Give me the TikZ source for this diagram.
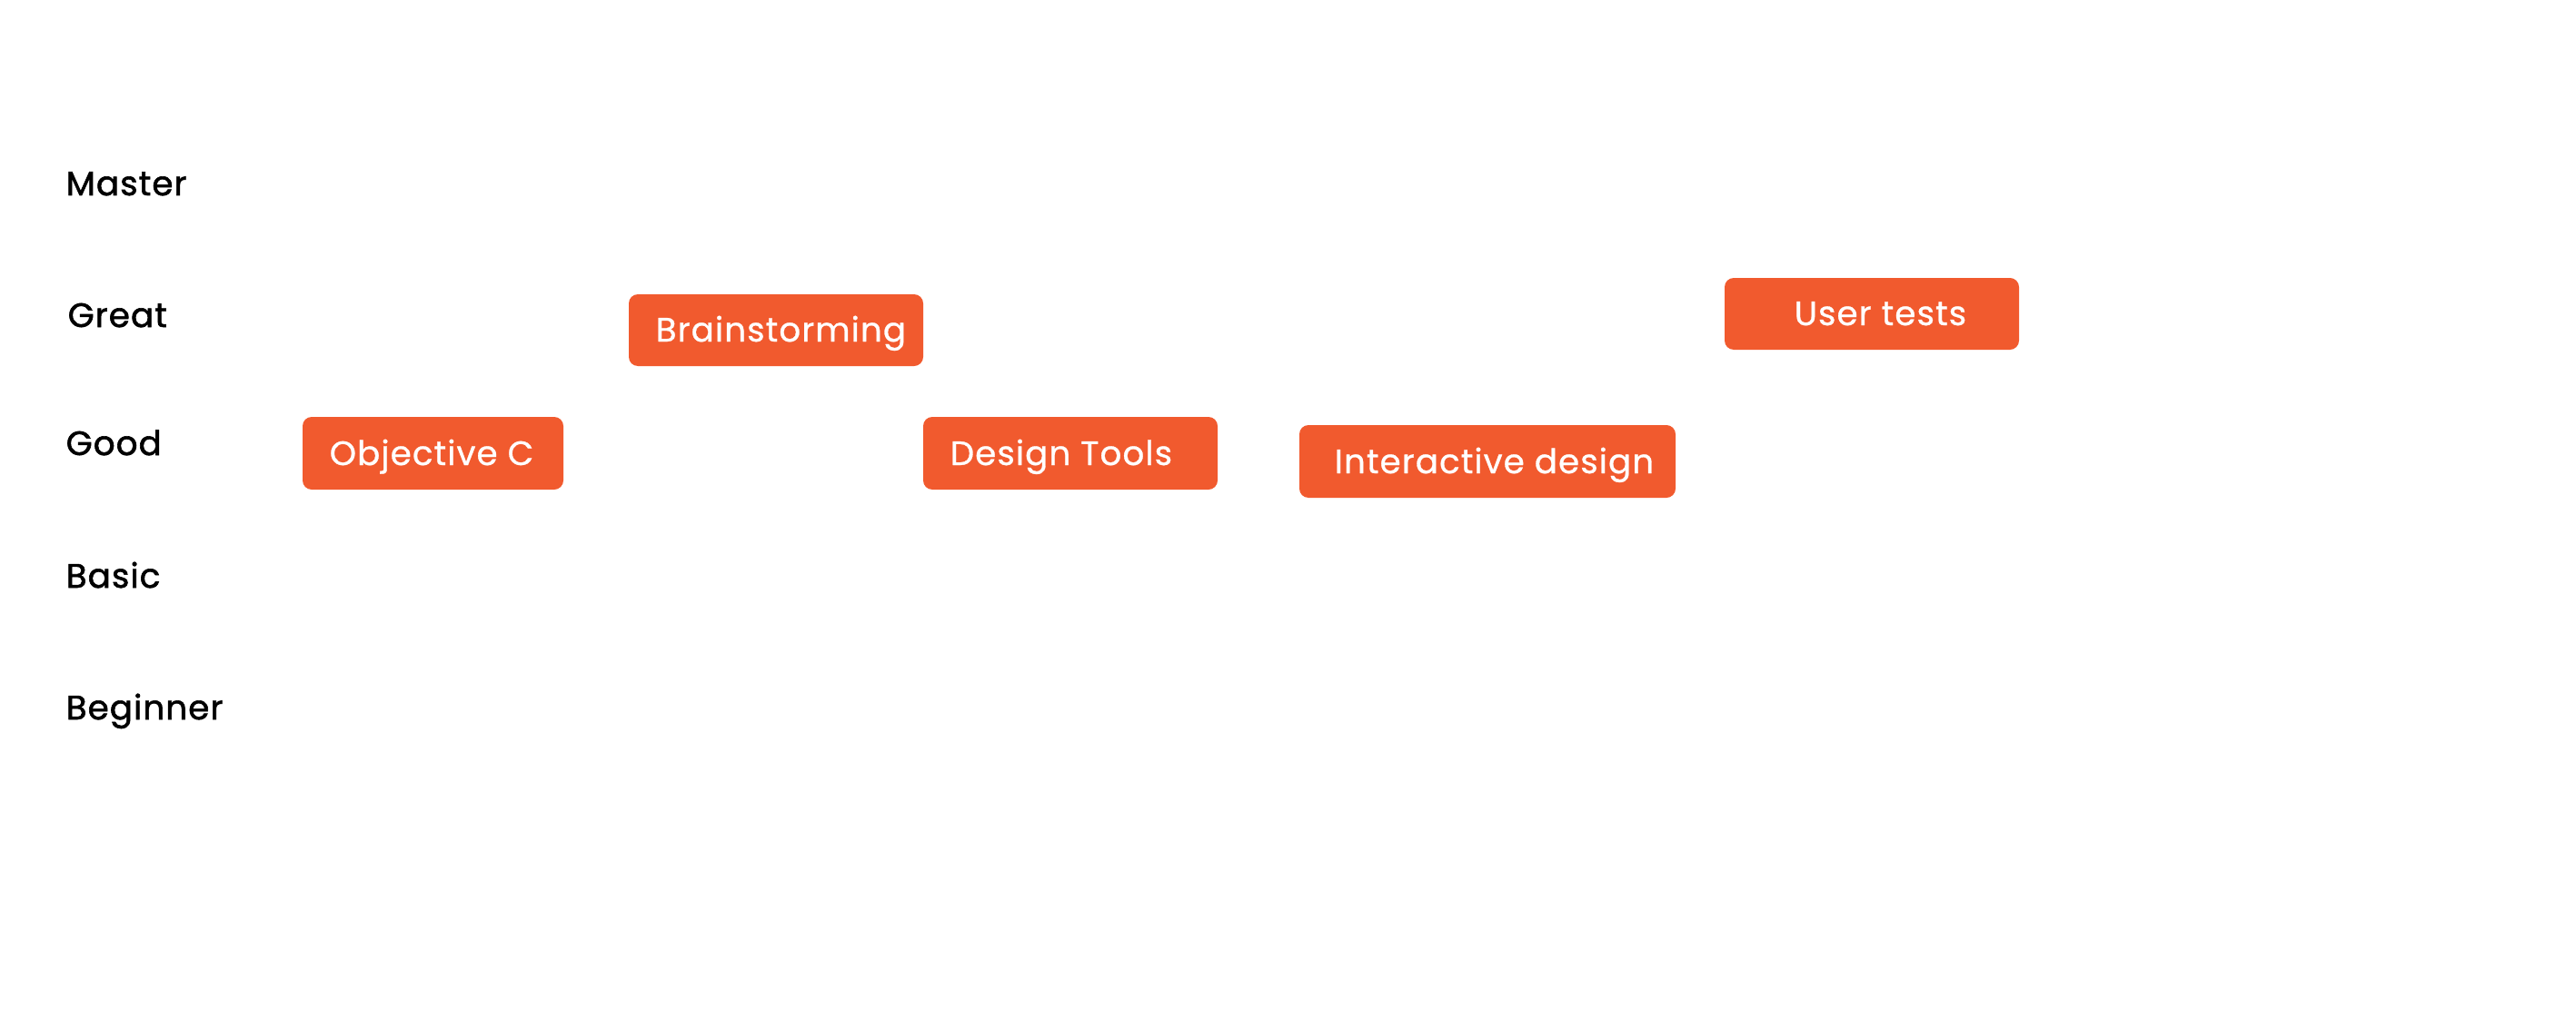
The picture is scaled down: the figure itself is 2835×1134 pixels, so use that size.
\documentclass[tikz,border=0pt]{standalone}
\usepackage{fontspec}
\setmainfont{Poppins}[LetterSpace=4]
\newfontfamily\lvlfont{Poppins}[LetterSpace=3,FakeBold=1.6]
\newfontfamily\boxfont{Poppins}[LetterSpace=3,FakeBold=0.8]
\definecolor{skill}{HTML}{F15A2E}
\begin{document}
\begin{tikzpicture}[x=0.25pt,y=-0.25pt,
  lvl/.style={anchor=base west,inner sep=0pt,font=\lvlfont\fontsize{9.3}{11}\selectfont,text=black},
  skillbox/.style={fill=skill,rounded corners=2.5pt,draw=none},
  skilltxt/.style={anchor=base west,inner sep=0pt,font=\boxfont\fontsize{9.3}{11}\selectfont,text=white}]
\useasboundingbox (0,0) rectangle (2835,1134);
% level labels
\node[lvl] (master) at (72,215) {Master};
\node[lvl] (great) at (74,360) {Great};
\node[lvl] (good) at (72,501) {Good};
\node[lvl] (basic) at (72,647) {Basic};
\node[lvl] (beginner) at (72,792) {Beginner};
% skill boxes
\path[skillbox] (333,459) rectangle (620,539);
\node[skilltxt] (objc) at (362,512) {Objective C};
\path[skillbox] (692,324) rectangle (1016,403);
\node[skilltxt] (brain) at (721,376) {Brainstorming};
\path[skillbox] (1016,459) rectangle (1340,539);
\node[skilltxt] (tools) at (1045,512) {Design Tools};
\path[skillbox] (1430,468) rectangle (1844,548);
\node[skilltxt] (inter) at (1468,521) {Interactive design};
\path[skillbox] (1898,306) rectangle (2222,385);
\node[skilltxt] (user) at (1974,358) {User tests};
\end{tikzpicture}
\end{document}
